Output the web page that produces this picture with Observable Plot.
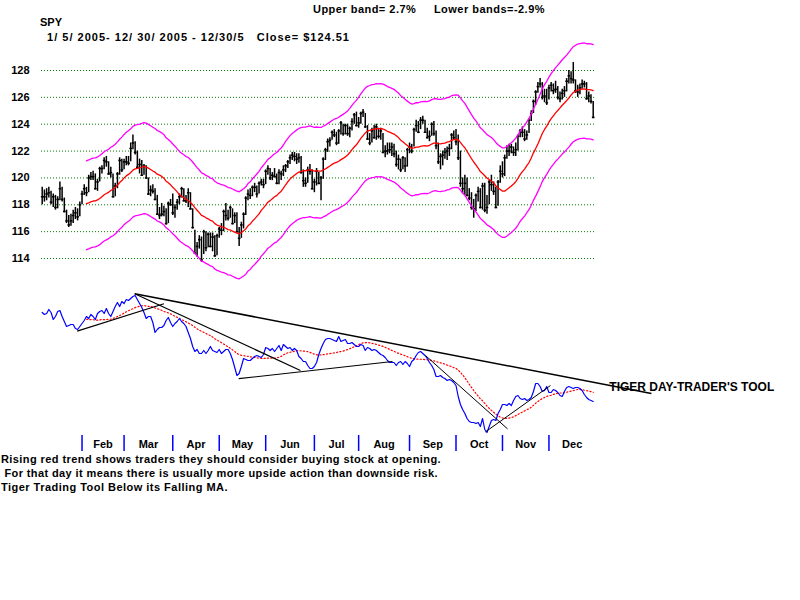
<!DOCTYPE html>
<html><head><meta charset="utf-8">
<script src="https://cdn.jsdelivr.net/npm/d3@7"></script>
<script src="https://cdn.jsdelivr.net/npm/@observablehq/plot@0.6"></script>
<style>
body{margin:0;background:#fff;}
#root{position:relative;width:800px;height:600px;background:#fff;font-family:"Liberation Sans",Arial,sans-serif;color:#000;overflow:hidden;}
.t{position:absolute;white-space:pre;font-weight:bold;font-size:11px;line-height:13px;}
.layer{position:absolute;left:0;}
</style></head><body>
<div id="root">
  <div class="t fit" data-w="232" style="left:313px;top:3px">Upper band= 2.7%     Lower bands=-2.9%</div>
  <div class="t" style="left:40px;top:16px">SPY</div>
  <div class="t fit" data-w="307" style="left:43px;top:31px"> 1/ 5/ 2005- 12/ 30/ 2005 - 12/30/5   Close= $124.51</div>
  <div id="top" class="layer" style="top:0px"></div>
  <div id="bottom" class="layer" style="top:280px"></div>
  <div id="axis" class="layer" style="top:432px"></div>
  <div class="t fit" data-w="440" style="left:1px;top:453px">Rising red trend shows traders they should consider buying stock at opening.</div>
  <div class="t fit" data-w="437" style="left:1px;top:467px"> For that day it means there is usually more upside action than downside risk.</div>
  <div class="t fit" data-w="227" style="left:1px;top:481px">Tiger Trading Tool Below its Falling MA.</div>
  <div id="dbg" class="t" style="left:600px;top:560px;color:red"></div>
</div>
<script>
// ---- SPY daily bars, 1/5/2005 - 12/30/2005 (trading-day order) ----
const closes = [
118.6,118.6,118.8,118.9,118.2,118.6,117.8,118.4,119.2,118.4,117.5,116.8,116.5,116.8,117.2,117.4,117.1,118.0,
118.8,119.2,118.9,120.0,120.1,120.1,119.2,119.7,120.7,120.7,121.3,121.2,120.3,120.4,118.6,119.4,120.3,121.3,120.6,
121.2,121.2,121.1,122.2,122.6,121.9,120.8,121.0,120.2,120.9,120.0,118.8,119.1,119.0,118.4,117.3,117.2,117.3,117.5,116.6,118.1,118.0,
117.4,117.8,118.2,118.6,119.2,118.3,118.3,118.9,117.7,116.3,114.4,114.9,115.4,113.9,116.0,114.8,115.8,114.9,115.6,114.2,115.7,
116.2,116.1,117.5,117.2,117.0,117.8,116.6,117.2,116.0,115.5,116.5,117.3,118.5,118.8,118.7,119.3,119.3,118.8,119.6,119.7,119.5,
120.5,120.7,120.0,120.2,120.1,119.6,120.4,120.3,120.6,120.9,121.2,121.5,121.7,121.6,121.4,121.5,120.4,119.8,119.6,120.6,120.5,119.2,
119.7,120.5,119.6,120.0,121.4,122.1,122.7,122.8,123.4,123.2,122.6,123.5,124.1,123.3,123.9,123.3,123.7,124.2,124.7,123.9,
124.1,124.8,124.9,123.8,122.9,122.6,123.5,123.0,123.8,123.1,123.5,121.9,122.0,122.0,122.1,122.3,121.8,121.0,121.4,120.6,121.5,120.9,122.1,
122.3,122.0,123.6,123.9,123.4,124.3,124.3,123.4,123.0,123.1,124.0,123.3,122.4,121.2,121.6,121.7,121.9,122.0,122.2,123.2,123.0,
122.7,121.5,119.6,119.2,119.6,118.7,118.5,117.8,117.7,118.7,119.0,117.8,119.4,117.6,117.8,119.7,119.5,119.0,117.8,119.7,120.5,
120.3,121.5,122.0,122.0,122.3,121.9,122.1,123.1,123.5,123.4,122.9,123.2,124.3,124.8,125.7,126.4,126.8,127.0,126.0,126.1,125.6,
126.7,126.9,126.5,126.6,126.0,125.9,126.3,126.5,127.2,127.6,127.4,127.3,126.5,126.4,126.7,127.0,127.0,125.9,126.1,125.7,124.51
];
const highs = [
119.3,119.1,119.2,119.3,119.0,118.8,118.7,118.6,119.7,119.3,118.5,117.6,117.2,117.3,117.6,117.8,117.7,118.2,
119.0,119.5,119.3,120.2,120.4,120.5,120.3,119.9,120.8,120.9,121.5,121.6,121.2,120.8,120.3,119.6,120.4,121.5,121.4,
121.4,121.6,121.6,122.6,123.2,122.7,122.0,121.4,121.3,121.0,120.9,120.0,119.4,119.5,119.2,118.7,117.8,118.1,117.9,117.7,118.2,118.4,
118.8,118.0,118.4,118.8,119.3,119.2,118.7,119.2,118.9,117.7,116.1,115.2,115.7,115.6,116.1,116.0,115.9,115.9,115.9,115.7,115.8,
116.3,116.6,117.6,118.1,117.6,117.9,117.7,117.4,117.4,116.3,116.7,117.4,118.6,119.1,119.2,119.4,119.6,119.4,119.7,119.9,119.9,
120.6,120.9,120.7,120.4,120.7,120.3,120.6,120.5,120.9,121.0,121.3,121.7,121.9,121.9,121.8,121.8,121.6,120.6,120.0,120.8,121.0,120.6,
119.9,120.7,120.4,120.1,121.5,122.2,122.9,123.0,123.5,123.6,123.4,123.6,124.2,124.0,124.0,124.0,123.8,124.4,124.8,124.9,
124.5,124.9,125.1,124.8,123.9,123.3,123.7,123.9,124.0,123.7,123.7,123.3,122.4,122.6,122.6,122.6,122.5,122.0,121.7,121.4,121.6,121.5,122.2,
122.6,122.5,123.7,124.3,124.2,124.5,124.6,124.3,123.7,123.5,124.1,124.2,123.5,122.6,121.8,122.0,122.2,122.3,122.5,123.3,123.5,
123.6,123.2,122.0,120.0,120.2,120.0,119.2,118.9,118.4,118.8,119.3,119.2,119.6,119.6,118.7,119.8,120.2,119.7,119.3,119.8,120.9,
121.2,121.7,122.4,122.5,122.5,122.3,122.6,123.2,123.6,123.8,123.6,123.5,124.4,125.0,125.8,126.5,127.1,127.4,127.1,126.6,126.6,
126.9,127.1,127.0,127.2,126.8,126.4,126.6,126.8,127.4,128.0,127.9,128.6,127.3,126.9,127.0,127.3,127.2,127.1,126.4,126.2,125.7
];
const lows = [
118.0,118.2,118.3,118.5,118.0,117.8,117.6,117.7,118.3,118.2,117.4,116.6,116.3,116.4,116.6,116.9,116.8,117.1,
118.0,118.7,118.6,118.9,119.8,119.8,119.1,119.0,119.7,120.3,120.6,120.8,120.2,120.0,118.5,118.6,119.2,120.2,120.4,
120.6,120.9,120.9,121.2,122.1,121.7,120.7,120.3,120.1,120.2,119.9,118.7,118.6,118.8,118.3,117.2,116.9,117.1,117.1,116.5,116.6,117.9,
117.2,117.0,117.6,118.0,118.5,118.2,118.1,117.8,117.6,116.2,114.3,114.1,114.7,113.7,114.3,114.5,114.8,114.8,114.5,114.1,114.2,
115.5,115.7,116.0,116.8,116.8,117.0,116.5,116.6,115.9,114.9,115.5,116.2,117.2,118.3,118.4,118.6,118.9,118.5,118.8,119.4,119.2,
119.5,120.2,119.8,119.8,120.0,119.5,119.5,119.8,120.1,120.4,120.7,121.0,121.3,121.2,121.0,121.1,120.3,119.3,119.3,119.6,120.2,119.1,
118.9,119.4,119.5,118.3,119.9,121.3,121.9,122.3,122.8,123.0,122.4,122.5,123.2,123.1,123.2,123.1,123.0,123.5,124.0,123.8,
123.7,124.0,124.5,123.7,122.8,122.4,122.6,122.9,122.8,122.9,122.8,121.8,121.5,121.7,121.8,121.6,121.5,120.8,120.6,120.4,120.6,120.4,120.8,
121.8,121.8,122.3,123.4,123.3,123.6,124.0,123.3,122.9,122.7,123.1,123.1,122.1,121.0,120.6,120.9,121.4,121.3,121.6,122.1,122.8,
122.4,121.3,119.3,118.8,118.7,118.6,118.3,117.6,117.0,117.5,118.2,117.7,117.6,117.4,117.3,118.0,119.0,118.7,117.7,117.9,119.6,
120.0,120.1,121.4,121.6,121.8,121.6,121.6,122.0,123.0,123.0,122.7,122.8,123.3,124.2,124.8,125.4,126.3,126.7,125.8,125.6,125.4,
125.8,126.4,126.2,126.3,125.8,125.6,125.8,126.0,126.4,127.0,127.0,127.0,126.3,126.0,126.2,126.6,126.7,125.8,125.6,125.5,124.4
];
// ---- Tiger Day-Trader's Tool (indicator units, same trading days) ----
const tiger = [
64,63,63.5,65.5,64,60.5,62,64.5,65,62,
59.5,57,57.5,58,58,56,55.5,57,58.5,60,
62,61,63,62,60.5,63.5,64.5,65,63.5,66,
63.5,62,64.5,67,69,67,69.5,68.5,70.5,70,
71,72,72.5,70.5,68.5,66.5,64,61,62,62,
59,54,55.5,56.5,56.5,57.5,60,61.5,59,57,
58.5,59.5,61,59.5,58.5,57,54,51,47,44.5,
45.5,43.5,43.5,45,43.5,45,47,45,44.5,44,
45.5,43.5,44.5,45.5,45.5,43.5,40.5,36.5,32.5,33.5,
37,41,40.5,40,40,41,42,42.5,42,41.5,
43,46.5,46,45,46,44.5,46,47.5,45,48,
47,46,46.5,45,46,45,42,41,39.5,39.5,
37.5,36,36,37,39,43,46,48.5,50.5,51,
51,50.5,50,49.5,52,49.5,50,50.5,48.5,48.5,
49,48,47,47,48,47.5,45,46.5,46,45,
45.5,45,44,43,42.5,41.5,40,39,39,39,
37.5,39,39.5,38,39.5,38.5,37,39.5,40.5,42.5,
44,44.5,43.5,42.5,41,39,37.5,35.5,32,32,
32.5,31.5,31,30,30.5,30,29,27.5,22,18,
15.5,13.5,11,9.5,9,9,8.5,9,7,11,
5.5,4,7,10,10.5,10,13.5,15.5,18,18,
17.5,18.5,17.5,20,22,22.5,21,20.5,21,20,
20.5,21.5,24.5,28.5,28.5,27,24.5,25,27,24,
24,25.5,25,24,22.5,22,24.5,26.5,27,26.5,
26,26.5,26.5,26,25,23,21.5,20.5,20,19.5
];
// trend lines drawn on the indicator (trading-day index, indicator value)
const trendI1 = [15.8, 41.8, 41.8, 88.8, 173.2, 200.3];
const trendV1 = [54.7, 73.4, 73.4, 30.9, 42.5, 4.3];
const trendI2 = [55.0, 275.3, 116.7, 158.3, 210.3, 229.7];
const trendV2 = [68.4, 23.5, 35.0, 39.5, 5.8, 27.5];
const trendW  = [1.2, 1.5, 1.2, 1.2, 1.0, 1.0];
const toolLabel = ["TIGER DAY-TRADER'S TOOL"];
const toolLabelI = [256.3];
const toolLabelV = [26.8];

const yTicks = [114, 116, 118, 120, 122, 124, 126, 128];
const monthNames = ["Feb","Mar","Apr","May","Jun","Jul","Aug","Sep","Oct","Nov","Dec"];
const monthStarts = [18, 37, 59, 80, 101, 123, 143, 166, 187, 208, 229];
const upperBandPct = 2.7;
const lowerBandPct = -2.9;
const maDays = 21;

// ---- derived ----
const n = closes.length;
if (highs.length !== n || lows.length !== n || tiger.length !== n)
  document.getElementById("dbg").textContent = `len ${n} ${highs.length} ${lows.length} ${tiger.length}`;
const bars = closes.map((c, i) => ({i, c, h: highs[i], l: lows[i]}));
const sma = (arr, i) => i < maDays - 1 ? NaN : d3.mean(arr.slice(i - maDays + 1, i + 1));
const bands = closes.map((c, i) => {
  const m = sma(closes, i);
  return {i, ma: m, up: m * (1 + upperBandPct / 100), lo: m * (1 + lowerBandPct / 100)};
});
const tdata = tiger.map((v, i) => ({i, v, m: sma(tiger, i)}));
const trends = trendI1.map((_, k) => ({x1: trendI1[k], y1: trendV1[k], x2: trendI2[k], y2: trendV2[k], w: trendW[k]}));
const months = monthNames.map((m, k) => ({m, s: monthStarts[k], mid: (monthStarts[k] + (k + 1 < monthStarts.length ? monthStarts[k + 1] : n)) / 2}));

const X = {domain: [0, n - 1], range: [41.7, 592.7], axis: null};
const sty = {background: "transparent", overflow: "visible", fontFamily: "'Liberation Sans', Arial, sans-serif"};

const topPlot = Plot.plot({
  width: 800, height: 285,
  marginLeft: 41, marginRight: 204, marginTop: 60, marginBottom: 20,
  style: sty,
  x: X,
  y: {domain: [114, 128], range: [258, 70], axis: null},
  marks: [
    Plot.ruleY(yTicks, {stroke: "#008000", strokeDasharray: "1,2", strokeWidth: 1}),
    Plot.text(yTicks, {y: d => d, text: d => String(d), frameAnchor: "left", textAnchor: "end", dx: -12, fontSize: 11, fontWeight: "bold", fill: "black"}),
    Plot.ruleX(bars, {x: "i", y1: "l", y2: "h", stroke: "black", strokeWidth: 1.5}),
    Plot.link(bars, {x1: d => d.i - 0.6, x2: d => d.i + 0.6, y1: "c", y2: "c", stroke: "black", strokeWidth: 1.5}),
    Plot.line(bands, {x: "i", y: "up", stroke: "#ff00ff", strokeWidth: 1.3}),
    Plot.line(bands, {x: "i", y: "lo", stroke: "#ff00ff", strokeWidth: 1.3}),
    Plot.line(bands, {x: "i", y: "ma", stroke: "#ff0000", strokeWidth: 1.3})
  ]
});
document.getElementById("top").appendChild(topPlot);

const bottomPlot = Plot.plot({
  width: 800, height: 160, marginTop: 0, marginBottom: 0, marginLeft: 0, marginRight: 0,
  style: sty,
  x: X,
  y: {domain: [0, 80], range: [160, 0], axis: null},
  marks: [
    Plot.line(tdata, {x: "i", y: "m", stroke: "#ff0000", strokeWidth: 1.2, strokeDasharray: "1.2,2.2"}),
    Plot.line(tdata, {x: "i", y: "v", stroke: "#0000ff", strokeWidth: 1.2}),
    Plot.text(toolLabel, {x: (d, k) => toolLabelI[k], y: (d, k) => toolLabelV[k], text: d => d, textAnchor: "start", fontSize: 12, fontWeight: "bold", fill: "black"}),
    Plot.link(trends, {x1: "x1", y1: "y1", x2: "x2", y2: "y2", stroke: "black", strokeWidth: d => d.w})
  ]
});
document.getElementById("bottom").appendChild(bottomPlot);

const axisPlot = Plot.plot({
  width: 800, height: 24, marginTop: 3, marginBottom: 5, marginLeft: 0, marginRight: 0,
  style: sty,
  x: X,
  marks: [
    Plot.ruleX(months, {x: "s", stroke: "#0000ff", strokeWidth: 1.5}),
    Plot.text(months, {x: "mid", text: "m", frameAnchor: "middle", dy: 1, fontSize: 11, fontWeight: "bold", fill: "black"})
  ]
});
document.getElementById("axis").appendChild(axisPlot);

// stretch the HTML text lines to the widths they occupy in the reference
document.querySelectorAll(".fit").forEach(el => {
  const w = +el.dataset.w;
  const natural = el.getBoundingClientRect().width;
  const chars = el.textContent.length;
  el.style.letterSpacing = ((w - natural) / chars) + "px";
});
</script>
</body></html>
